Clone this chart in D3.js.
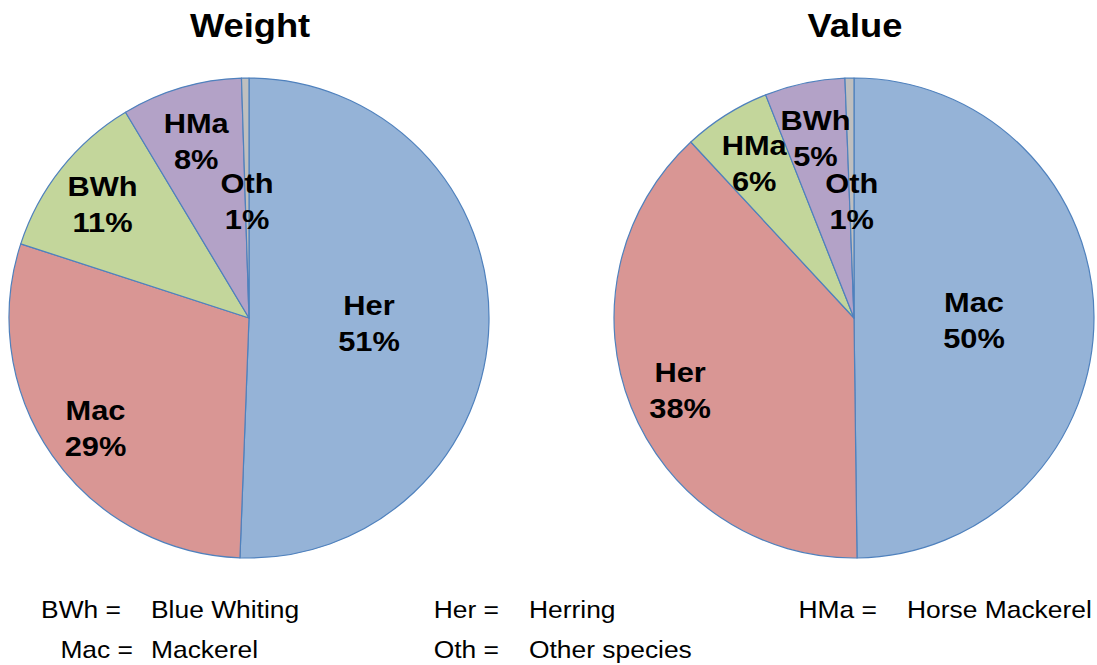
<!DOCTYPE html>
<html>
<head>
<meta charset="utf-8">
<script src="https://cdn.jsdelivr.net/npm/d3@7"></script>
<style>
  html, body { margin: 0; padding: 0; background: #fff; }
  svg { display: block; font-family: Arial, "Liberation Sans", sans-serif; }
</style>
</head>
<body>
<svg id="chart" width="1097" height="665"></svg>
<script>
// ---- data ----
const weightCategories = ["Her", "Mac", "BWh", "HMa", "Oth"];
const weightValues     = [50.6, 29.4, 11.4, 8.1, 0.5];
const valueCategories  = ["Mac", "Her", "HMa", "BWh", "Oth"];
const valueValues      = [49.8, 38.3, 5.9, 5.4, 0.6];
const chartTitles      = ["Weight", "Value"];
const legendCodes      = ["BWh =", "Her =", "HMa =", "Mac =", "Oth ="];
const legendNames      = ["Blue Whiting", "Herring", "Horse Mackerel", "Mackerel", "Other species"];

// ---- style ----
const sliceColors = ["#95B3D7", "#D99694", "#C3D69B", "#B3A2C7", "#BFBFBF"];
const strokeColor = "#4F81BD";
const radius = 240;
const pieCenters = [[249, 318], [854, 318]];
const titleY = 37;
const stretch = 1.1;   // horizontal text stretch seen in the reference

const svg = d3.select("#chart");

const pie = d3.pie().sort(null).value(d => d.v);
const arc = d3.arc().innerRadius(0).outerRadius(radius);

function drawPie(idx, cats, vals) {
  const data = cats.map((c, i) => ({ c, v: vals[i] }));
  const total = d3.sum(vals);
  const [cx, cy] = pieCenters[idx];
  const g = svg.append("g").attr("transform", `translate(${cx},${cy})`);
  const arcs = pie(data);
  g.selectAll("path.slice").data(arcs).join("path")
    .attr("class", "slice")
    .attr("d", arc)
    .attr("fill", (d, i) => sliceColors[i])
    .attr("stroke", strokeColor)
    .attr("stroke-width", 1.2)
    .attr("stroke-linejoin", "round");

  // labels
  arcs.forEach((d, i) => {
    const frac = d.data.v / total;
    const rf = (frac > 0.4 || frac < 0.02) ? 0.5 : 0.78;
    const a = (d.startAngle + d.endAngle) / 2;
    const x = Math.sin(a) * radius * rf;
    const y = -Math.cos(a) * radius * rf;
    const t = g.append("text")
      .attr("transform", `translate(${x},${y + 2}) scale(${stretch},1)`)
      .attr("text-anchor", "middle")
      .attr("font-weight", "bold")
      .attr("font-size", 28)
      .attr("fill", "#000");
    t.append("tspan").attr("x", 0).attr("y", -7).text(d.data.c);
    t.append("tspan").attr("x", 0).attr("y", 29).text(Math.round(frac * 100) + "%");
  });

  svg.append("text")
    .attr("transform", `translate(${cx + 1},${titleY}) scale(${stretch},1)`)
    .attr("text-anchor", "middle")
    .attr("font-weight", "bold")
    .attr("font-size", 33)
    .text(chartTitles[idx]);
}

drawPie(0, weightCategories, weightValues);
drawPie(1, valueCategories, valueValues);

// legend
const legendCodeX = [[121, 618], [499, 618], [877, 618], [133, 658], [499, 658]];
const legendNameX = [151, 529, 907, 151, 529];
const lg = svg.append("g").attr("font-size", 24).attr("fill", "#000");
legendCodes.forEach((code, i) => {
  const y = legendCodeX[i][1];
  lg.append("text")
    .attr("transform", `translate(${legendCodeX[i][0]},${y}) scale(${stretch},1)`)
    .attr("text-anchor", "end")
    .text(code);
  lg.append("text")
    .attr("transform", `translate(${legendNameX[i]},${y}) scale(${stretch},1)`)
    .text(legendNames[i]);
});
</script>
</body>
</html>
